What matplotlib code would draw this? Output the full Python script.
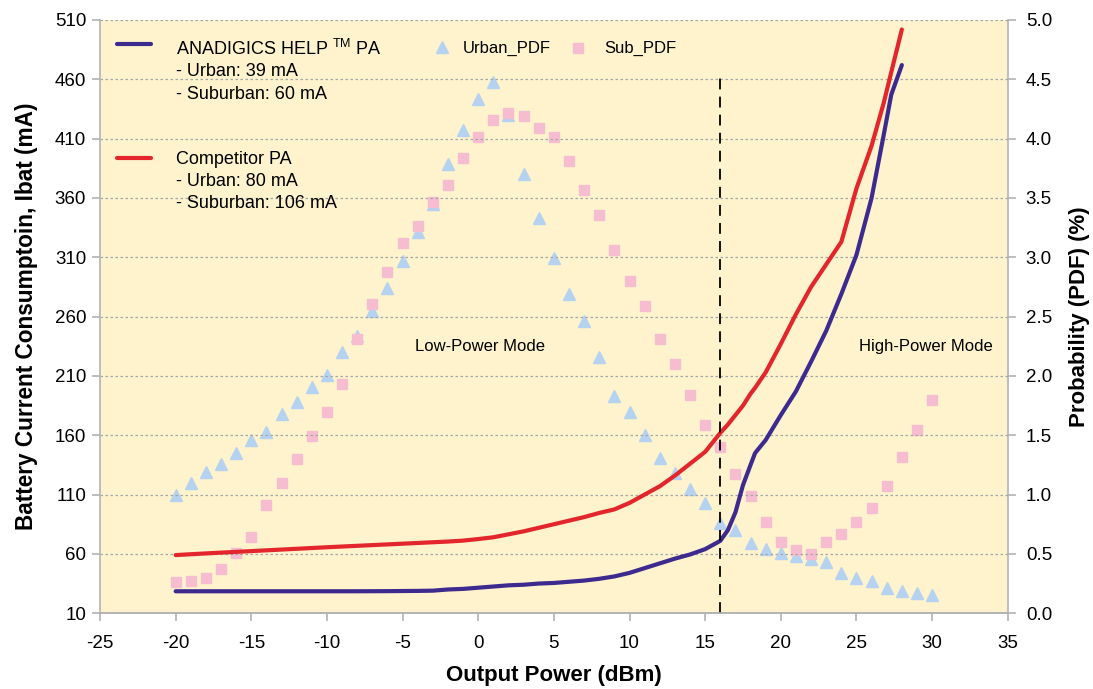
import matplotlib
matplotlib.use('Agg')
import matplotlib.pyplot as plt
from matplotlib.lines import Line2D

plt.rcParams['font.family'] = ['Liberation Sans', 'DejaVu Sans']
plt.rcParams['axes.unicode_minus'] = False
plt.rcParams['mathtext.fontset'] = 'custom'
plt.rcParams['mathtext.rm'] = 'Liberation Sans'

# Output power (dBm) for the current curves
power = [-20, -18, -16, -14, -12, -10, -8, -6, -4, -3, -2, -1, 0, 1, 2, 3, 4, 5, 6, 7, 8, 9,
         10, 11, 12, 13, 14, 15, 16, 16.5, 17, 17.5, 18, 18.3, 19, 20, 21, 22, 23, 24, 25,
         26, 26.8, 27.3, 28]
anadigics_ma = [28.5, 28.5, 28.5, 28.5, 28.5, 28.5, 28.5, 28.6, 28.8, 29.0, 30.0, 30.5, 31.5,
                32.5, 33.5, 34.0, 35.0, 35.5, 36.5, 37.5, 39.0, 41.0, 44.0, 48.0, 52.0, 56.0,
                59.5, 64.0, 71.0, 80.0, 95.0, 118.0, 135.0, 145.0, 156.0, 177.0, 197.0, 222.0,
                248.0, 279.0, 312.0, 360.0, 413.0, 447.0, 472.0]
competitor_ma = [59.0, 60.4, 61.7, 63.0, 64.3, 65.6, 66.8, 68.0, 69.2, 69.8, 70.4, 71.2, 72.5,
                 74.0, 76.5, 79.0, 82.0, 85.0, 88.0, 91.0, 94.5, 97.5, 103.0, 110.0, 117.0,
                 126.0, 136.0, 146.0, 162.0, 169.0, 177.0, 185.0, 195.0, 200.0, 213.0, 237.0,
                 262.0, 285.0, 304.0, 323.0, 368.0, 404.0, 440.0, 466.0, 502.0]

# Probability distributions (%)
pdf_power = list(range(-20, 31))
urban_pdf = [1.00, 1.10, 1.19, 1.26, 1.35, 1.46, 1.53, 1.68, 1.78, 1.91, 2.01, 2.20, 2.34,
             2.55, 2.74, 2.97, 3.21, 3.45, 3.79, 4.07, 4.33, 4.48, 4.20, 3.70, 3.33, 2.99,
             2.69, 2.46, 2.16, 1.83, 1.70, 1.50, 1.31, 1.18, 1.05, 0.93, 0.76, 0.70, 0.59,
             0.54, 0.51, 0.48, 0.46, 0.43, 0.34, 0.30, 0.27, 0.21, 0.19, 0.17, 0.15]
sub_pdf = [0.26, 0.27, 0.30, 0.37, 0.51, 0.64, 0.91, 1.10, 1.30, 1.49, 1.70, 1.93, 2.31,
           2.61, 2.88, 3.12, 3.26, 3.47, 3.61, 3.84, 4.01, 4.16, 4.22, 4.19, 4.09, 4.01,
           3.81, 3.57, 3.36, 3.06, 2.80, 2.59, 2.31, 2.10, 1.84, 1.59, 1.40, 1.17, 0.99,
           0.77, 0.60, 0.53, 0.50, 0.60, 0.67, 0.77, 0.89, 1.07, 1.32, 1.54, 1.80]

mode_boundary = 16

purple = '#3D2A8E'
red = '#E3262B'
blue = '#B5D3F0'
pink = '#F6BDD1'
bg = '#FEF3CD'
spine_gray = '#B3B3B3'

fig = plt.figure(figsize=(10.93, 6.89), dpi=100)
ax = fig.add_axes([0.0915, 0.110, 0.8305, 0.861])
ax2 = ax.twinx()

# PDF markers behind the current curves
ax.set_zorder(ax2.get_zorder() + 1)
ax.patch.set_visible(False)
ax2.patch.set_visible(True)
ax2.set_facecolor(bg)

ax2.plot(pdf_power, urban_pdf, linestyle='none', marker='^', ms=9, color=blue, mec=blue)
ax2.plot(pdf_power, sub_pdf, linestyle='none', marker='s', ms=7, color=pink, mec=pink)

ax.plot(power, anadigics_ma, color=purple, lw=3, solid_capstyle='round')
ax.plot(power, competitor_ma, color=red, lw=3, solid_capstyle='round')
ax.plot([mode_boundary, mode_boundary], [10, 463], color='black', lw=1.3, ls=(0, (6, 4)))

ax.set_xlim(-25, 35)
ax.set_ylim(10, 510)
ax2.set_ylim(0, 5)
ax.set_xticks(range(-25, 36, 5))
ax.set_yticks(range(10, 511, 50))
ax2.set_yticks([i * 0.5 for i in range(11)])
ax2.set_yticklabels([f'{i * 0.5:.1f}' for i in range(11)])

ax.yaxis.grid(True, color='#A6A6A6', ls=(0, (2, 2)), lw=0.9)
ax.set_axisbelow(True)

for a in (ax, ax2):
    a.spines['top'].set_visible(False)
    for s in ('left', 'right', 'bottom'):
        a.spines[s].set_color(spine_gray)
        a.spines[s].set_linewidth(1.2)
    a.tick_params(colors=spine_gray, labelcolor='black', labelsize=13.5, length=6, width=1.2)
ax2.spines['left'].set_visible(False)
ax.spines['right'].set_visible(False)
ax.tick_params(axis='x', pad=10)
ax.tick_params(axis='y', pad=4)
ax2.tick_params(axis='y', pad=7)

ax.set_xlabel('Output Power (dBm)', fontsize=16, fontweight='bold', labelpad=9)
ax.set_ylabel('Battery Current Consumptoin, Ibat (mA)', fontsize=16.3, fontweight='bold', labelpad=12)
ax2.set_ylabel('Probability (PDF) (%)', fontsize=16, fontweight='bold', labelpad=12)

# legend drawn as text block
ax.add_line(Line2D([-23.9, -21.6], [490, 490], color=purple, lw=3, solid_capstyle='round'))
ax.text(-20.0, 486, r'ANADIGICS HELP $^{\mathrm{TM}}$ PA', fontsize=13, va='center')
ax.text(-20.0, 466.5, '- Urban: 39 mA', fontsize=13, va='center')
ax.text(-20.0, 447, '- Suburban: 60 mA', fontsize=13, va='center')
ax.add_line(Line2D([-23.9, -21.6], [393.5, 393.5], color=red, lw=3, solid_capstyle='round'))
ax.text(-20.0, 392, 'Competitor PA', fontsize=13, va='center')
ax.text(-20.0, 373.5, '- Urban: 80 mA', fontsize=13, va='center')
ax.text(-20.0, 355, '- Suburban: 106 mA', fontsize=13, va='center')
ax.plot([-2.4], [487], marker='^', ms=9, color=blue, ls='none')
ax.text(-1.0, 486, 'Urban_PDF', fontsize=12, va='center')
ax.plot([6.6], [486], marker='s', ms=7, color=pink, ls='none')
ax.text(8.3, 486, 'Sub_PDF', fontsize=12, va='center')

ax.text(0.1, 235, 'Low-Power Mode', fontsize=12, ha='center', va='center')
ax.text(29.6, 235, 'High-Power Mode', fontsize=12, ha='center', va='center')

fig.savefig('out.png', dpi=100)
